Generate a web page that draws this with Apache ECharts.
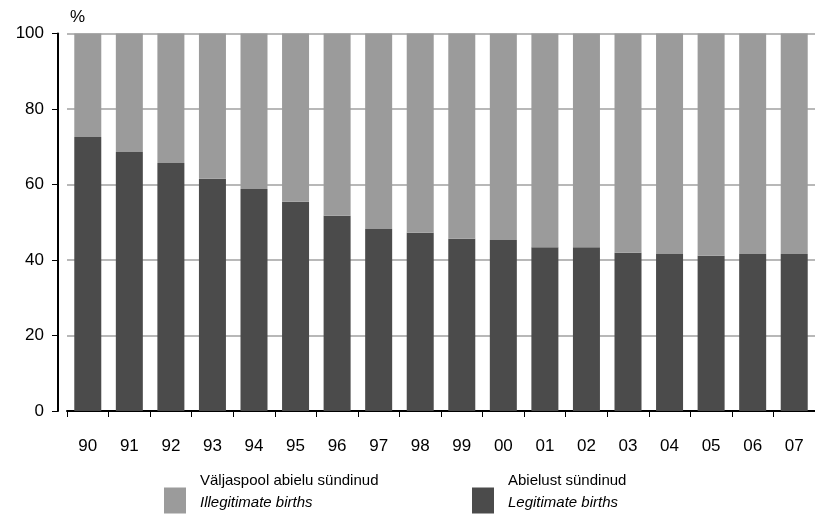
<!DOCTYPE html>
<html>
<head>
<meta charset="utf-8">
<script src="https://cdn.jsdelivr.net/npm/echarts@6/dist/echarts.min.js"></script>
<style>
html,body{margin:0;padding:0;background:#fff;}
#c{width:815px;height:523px;}
</style>
</head>
<body>
<div id="c"></div>
<script>
var categories = ['90','91','92','93','94','95','96','97','98','99','00','01','02','03','04','05','06','07'];
var legitimate = [72.6, 68.6, 65.7, 61.5, 58.8, 55.4, 51.7, 48.2, 47.2, 45.6, 45.3, 43.4, 43.4, 41.9, 41.6, 41.1, 41.6, 41.6];
var illegitimate = [27.4, 31.4, 34.3, 38.5, 41.2, 44.6, 48.3, 51.8, 52.8, 54.4, 54.7, 56.6, 56.6, 58.1, 58.4, 58.9, 58.4, 58.4];
var yTicks = [0, 20, 40, 60, 80, 100];
var nameIlleg = 'Väljaspool abielu sündinud';
var nameIllegEn = 'Illegitimate births';
var nameLegit = 'Abielust sündinud';
var nameLegitEn = 'Legitimate births';

var FONT = '"Liberation Sans", Arial, sans-serif';
var chart = echarts.init(document.getElementById('c'), null, {renderer: 'canvas'});

function legendFmt(en) {
  return function (name) { return '{a|' + name + '}\n{b|' + en + '}'; };
}
var richStyle = {
  a: {fontFamily: FONT, fontSize: 15, color: '#000', lineHeight: 22, padding: [0, 0, 0, 9]},
  b: {fontFamily: FONT, fontSize: 15, color: '#000', fontStyle: 'italic', lineHeight: 22, padding: [0, 0, 0, 9]}
};

chart.setOption({
  animation: false,
  backgroundColor: '#fff',
  title: {
    text: '%', left: 70, top: 9, padding: 0,
    textStyle: {fontFamily: FONT, fontSize: 17, fontWeight: 'normal', color: '#000'}
  },
  grid: {left: 67, top: 33.5, width: 755, height: 377.5, containLabel: false},
  legend: [
    {
      data: [nameIlleg], left: 164, top: 473, padding: 0, icon: 'rect', itemWidth: 22, itemHeight: 26,
      formatter: legendFmt(nameIllegEn),
      textStyle: {rich: richStyle, padding: [0, 0, 18, 0]}
    },
    {
      data: [nameLegit], left: 472, top: 473, padding: 0, icon: 'rect', itemWidth: 22, itemHeight: 26,
      formatter: legendFmt(nameLegitEn),
      textStyle: {rich: richStyle, padding: [0, 0, 18, 0]}
    }
  ],
  xAxis: {
    type: 'category',
    data: categories,
    offset: 10,
    boundaryGap: true,
    axisLine: {lineStyle: {color: '#000', width: 2}},
    axisTick: {show: true, length: 6, interval: 0, alignWithLabel: false, lineStyle: {color: '#000', width: 1}},
    axisLabel: {fontFamily: FONT, fontSize: 17, color: '#000', margin: 17, interval: 0},
    splitLine: {show: false}
  },
  yAxis: {
    type: 'value',
    min: yTicks[0], max: yTicks[yTicks.length - 1], interval: 20,
    offset: 9,
    axisLine: {show: true, lineStyle: {color: '#000', width: 2}},
    axisTick: {show: true, length: 6, lineStyle: {color: '#000', width: 1}},
    axisLabel: {fontFamily: FONT, fontSize: 17, color: '#000', margin: 14},
    splitLine: {show: true, lineStyle: {color: '#a0a0a0', width: 1.5}}
  },
  series: [
    {
      name: nameLegit, type: 'bar', stack: 'total', data: legitimate, barWidth: 27,
      itemStyle: {color: '#4b4b4b'}
    },
    {
      name: nameIlleg, type: 'bar', stack: 'total', data: illegitimate, barWidth: 27,
      itemStyle: {color: '#9b9b9b'}
    }
  ]
});
</script>
</body>
</html>
